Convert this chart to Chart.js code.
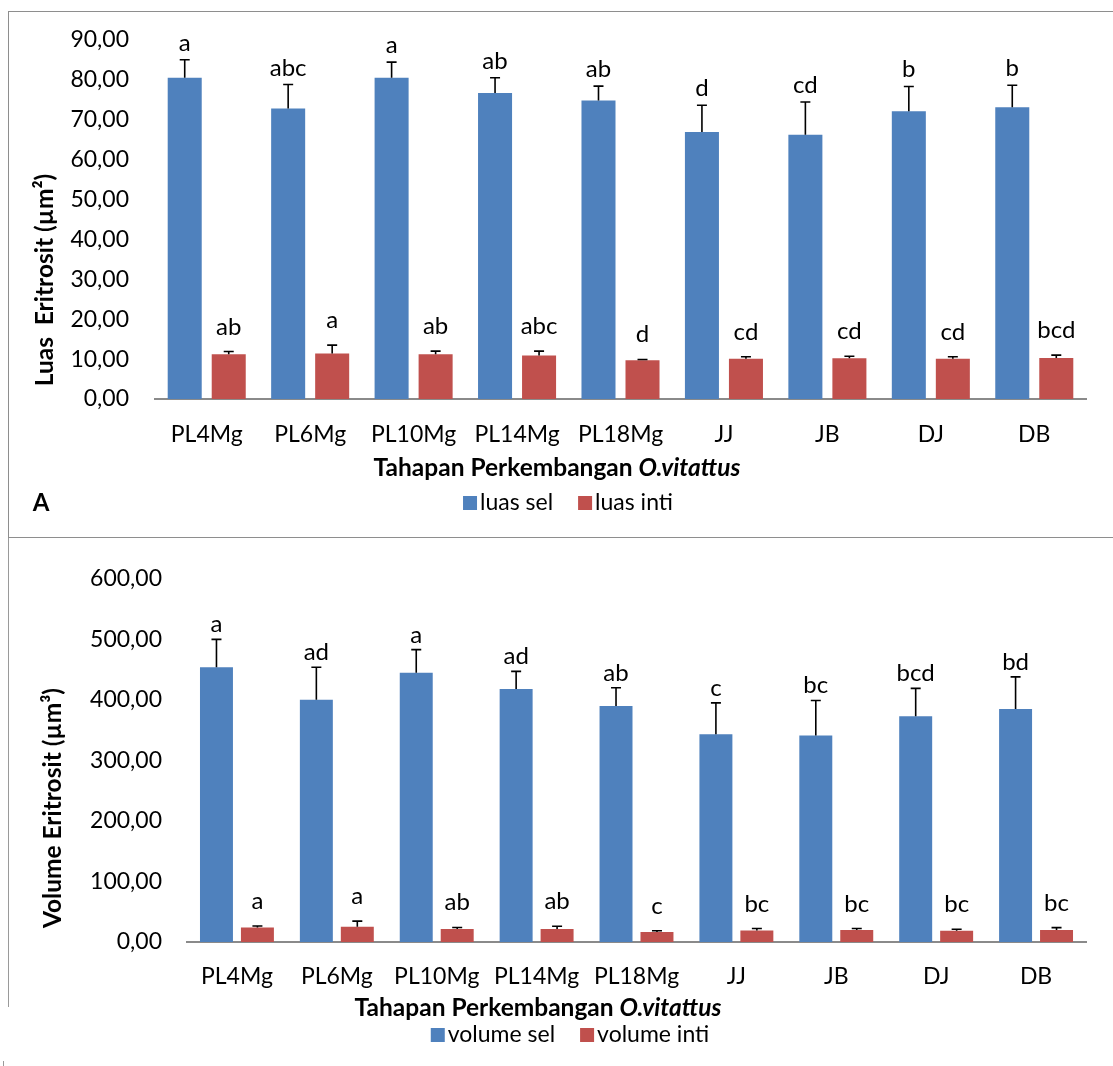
<!DOCTYPE html>
<html lang="id">
<head>
<meta charset="UTF-8" />
<title>Luas dan Volume Eritrosit O.vitattus</title>
<style>
  body {
    margin: 0;
    background: #fff;
    overflow: hidden;
    width: 1113px;
    height: 1066px;
    position: relative;
    font-family: Lato, sans-serif;
  }
  .frame1 {
    position: absolute;
    left: 8px; top: 11px;
    width: 1200px; height: 525px;
    border: 1.5px solid #8e8e8e;
  }
  .frame2 {
    position: absolute;
    left: 8px; top: 538px;
    height: 469px;
    border-left: 1.5px solid #9a9a9a;
  }
  .tick {
    position: absolute;
    left: 3px; top: 1061px;
    width: 1px; height: 5px;
    background: #9a9a9a;
  }
  canvas { position: absolute; left: 0; }
  #luas { top: 0; }
  #volume { top: 540px; }
</style>
</head>
<body>
<div class="frame1"></div>
<div class="frame2"></div>
<div class="tick"></div>
<canvas id="luas" width="1113" height="538"></canvas>
<canvas id="volume" width="1113" height="526"></canvas>

<script src="https://cdn.jsdelivr.net/npm/chart.js"></script>
<script>
  const stages = ['PL4Mg', 'PL6Mg', 'PL10Mg', 'PL14Mg', 'PL18Mg', 'JJ', 'JB', 'DJ', 'DB'];

  // luas eritrosit (um2)
  const luasSel      = [80.5, 72.8, 80.5, 76.7, 74.8, 66.9, 66.2, 72.1, 73.1];
  const luasSelSD    = [4.5, 6.0, 3.9, 3.8, 3.6, 6.7, 8.2, 6.2, 5.5];
  const luasSelHuruf = ['a', 'abc', 'a', 'ab', 'ab', 'd', 'cd', 'b', 'b'];
  const luasInti      = [11.2, 11.4, 11.2, 10.9, 9.7, 10.1, 10.2, 10.1, 10.3];
  const luasIntiSD    = [0.7, 2.1, 0.8, 1.1, 0.2, 0.5, 0.5, 0.5, 0.7];
  const luasIntiHuruf = ['ab', 'a', 'ab', 'abc', 'd', 'cd', 'cd', 'cd', 'bcd'];

  // volume eritrosit (um3)
  const volSel      = [454, 400, 445, 418, 390, 343, 341, 373, 385];
  const volSelSD    = [46, 54, 38, 29, 30, 52, 58, 46, 53];
  const volSelHuruf = ['a', 'ad', 'a', 'ad', 'ab', 'c', 'bc', 'bcd', 'bd'];
  const volInti      = [24, 25, 21.3, 21.3, 16.5, 19.2, 19.7, 18.6, 19.7];
  const volIntiSD    = [2.5, 9.5, 2.7, 4.7, 2.0, 3.0, 2.5, 2.5, 4.0];
  const volIntiHuruf = ['a', 'a', 'ab', 'ab', 'c', 'bc', 'bc', 'bc', 'bc'];

  const BLUE = '#4f81bd';
  const RED = '#c0504d';
  const TITLE_FONT = 'bold 24.5px Lato';

  Chart.defaults.font.family = 'Lato';
  Chart.defaults.color = '#000';

  // error bars + letters above them
  const errorBars = {
    id: 'errorBars',
    afterDatasetsDraw(chart) {
      const ctx = chart.ctx;
      const y = chart.scales.y;
      chart.data.datasets.forEach((ds, i) => {
        chart.getDatasetMeta(i).data.forEach((bar, j) => {
          const top = y.getPixelForValue(ds.data[j] + ds.sd[j]);
          ctx.save();
          ctx.strokeStyle = '#000';
          ctx.lineWidth = 1.6;
          ctx.beginPath();
          ctx.moveTo(bar.x, bar.y);
          ctx.lineTo(bar.x, top);
          ctx.moveTo(bar.x - 5, top);
          ctx.lineTo(bar.x + 5, top);
          ctx.stroke();
          ctx.fillStyle = '#000';
          ctx.font = '24px Lato';
          ctx.textAlign = 'center';
          ctx.textBaseline = 'alphabetic';
          ctx.fillText(ds.huruf[j], bar.x, top - ds.hurufGap);
          ctx.restore();
        });
      });
    }
  };

  // axis titles, legend and panel letter drawn like the Excel layout
  const decor = {
    id: 'decor',
    afterDraw(chart, args, o) {
      const ctx = chart.ctx;
      ctx.save();
      ctx.fillStyle = '#000';
      ctx.textBaseline = 'middle';

      // y title
      ctx.save();
      ctx.translate(o.yTitle.x, o.yTitle.y);
      ctx.rotate(-Math.PI / 2);
      ctx.font = TITLE_FONT;
      ctx.textAlign = 'center';
      ctx.fillText(o.yTitle.text, 0, 0);
      ctx.restore();

      // x title, species name in italic
      ctx.textAlign = 'left';
      ctx.font = TITLE_FONT;
      const w1 = ctx.measureText(o.xTitle.text).width;
      ctx.font = 'italic ' + TITLE_FONT;
      const w2 = ctx.measureText(o.xTitle.italic).width;
      let x = o.xTitle.x - (w1 + w2) / 2;
      ctx.font = TITLE_FONT;
      ctx.fillText(o.xTitle.text, x, o.xTitle.y);
      ctx.font = 'italic ' + TITLE_FONT;
      ctx.fillText(o.xTitle.italic, x + w1, o.xTitle.y);

      // legend
      ctx.font = '23px Lato';
      const box = 14, boxGap = 3, itemGap = 25;
      const items = chart.data.datasets.map(ds => ({
        label: ds.label, color: ds.backgroundColor,
        w: box + boxGap + ctx.measureText(ds.label).width
      }));
      const total = items.reduce((s, it) => s + it.w, 0) + itemGap * (items.length - 1);
      x = o.legend.x - total / 2;
      items.forEach(it => {
        ctx.fillStyle = it.color;
        ctx.fillRect(x, o.legend.y - box / 2, box, box);
        ctx.fillStyle = '#000';
        ctx.fillText(it.label, x + box + boxGap, o.legend.y);
        x += it.w + itemGap;
      });

      if (o.panel) {
        ctx.font = 'bold 24px Lato';
        ctx.textAlign = 'center';
        ctx.fillText(o.panel.text, o.panel.x, o.panel.y);
      }
      ctx.restore();
    }
  };

  function makeChart(id, sets, axis, decorOpts) {
    return new Chart(document.getElementById(id), {
      type: 'bar',
      data: {
        labels: stages,
        datasets: sets.map(s => ({
          label: s.label,
          data: s.data,
          sd: s.sd,
          huruf: s.huruf,
          hurufGap: s.gap,
          backgroundColor: s.color,
          borderWidth: 0,
          categoryPercentage: axis.catPct,
          barPercentage: axis.barPct
        }))
      },
      options: {
        responsive: false,
        animation: false,
        devicePixelRatio: 1,
        layout: { padding: { left: 0, right: axis.right, top: axis.top, bottom: 0 } },
        plugins: {
          legend: { display: false },
          tooltip: { enabled: false },
          decor: decorOpts
        },
        scales: {
          x: {
            grid: { display: false, drawTicks: false },
            border: { display: true, color: '#8a8a8a', width: 2 },
            ticks: { font: { size: 23 }, padding: axis.xPad, maxRotation: 0, autoSkip: false },
            afterFit: s => { s.height = axis.xHeight; }
          },
          y: {
            min: 0,
            max: axis.max,
            grid: { display: false, drawTicks: false },
            border: { display: false },
            ticks: {
              stepSize: axis.step,
              font: { size: 23 },
              padding: axis.yPad,
              callback: v => v.toFixed(2).replace('.', ',')
            },
            afterFit: s => { s.width = axis.yWidth; }
          }
        }
      },
      plugins: [errorBars, decor]
    });
  }

  makeChart('luas', [
    { label: 'luas sel', data: luasSel, sd: luasSelSD, huruf: luasSelHuruf, gap: 9, color: BLUE },
    { label: 'luas inti', data: luasInti, sd: luasIntiSD, huruf: luasIntiHuruf, gap: 17, color: RED }
  ], {
    max: 90, step: 10, catPct: 0.851, barPct: 0.773,
    right: 27, top: 38, yWidth: 155, xHeight: 139, xPad: 22, yPad: 26
  }, {
    yTitle: { text: 'Luas  Eritrosit (µm²)', x: 45, y: 280 },
    xTitle: { text: 'Tahapan Perkembangan ', italic: 'O.vitattus', x: 557, y: 468 },
    legend: { x: 568, y: 503 },
    panel: { text: 'A', x: 41, y: 503 }
  });

  makeChart('volume', [
    { label: 'volume sel', data: volSel, sd: volSelSD, huruf: volSelHuruf, gap: 7, color: BLUE },
    { label: 'volume inti', data: volInti, sd: volIntiSD, huruf: volIntiHuruf, gap: 17, color: RED }
  ], {
    max: 600, step: 100, catPct: 0.82, barPct: 0.805,
    right: 27, top: 27, yWidth: 187, xHeight: 124, xPad: 21, yPad: 25
  }, {
    yTitle: { text: 'Volume Eritrosit (µm³)', x: 53, y: 268 },
    xTitle: { text: 'Tahapan Perkembangan ', italic: 'O.vitattus', x: 538, y: 468 },
    legend: { x: 570, y: 495 }
  });
</script>
</body>
</html>
